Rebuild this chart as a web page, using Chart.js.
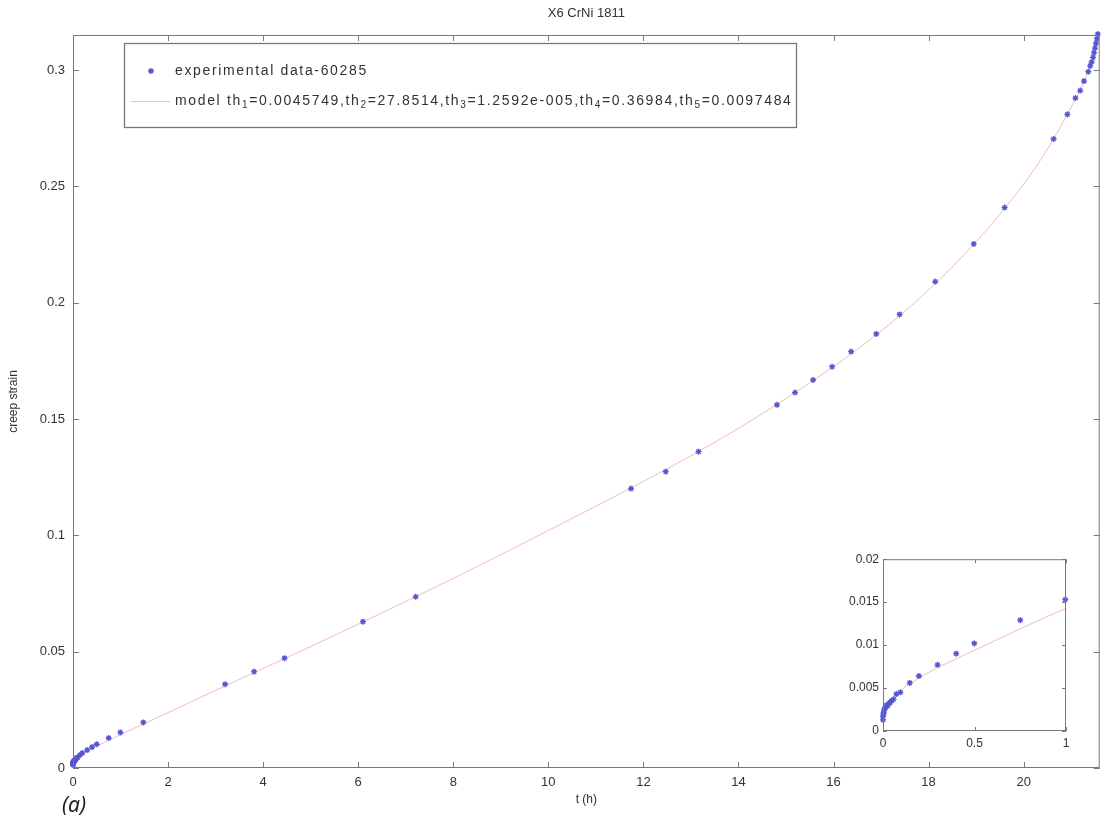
<!DOCTYPE html>
<html>
<head>
<meta charset="utf-8">
<script src="https://cdn.jsdelivr.net/npm/chart.js@4.4.1/dist/chart.umd.min.js"></script>
<style>
  body { margin: 0; background: #fff; }
  #wrap { position: relative; width: 1105px; height: 829px; }
  #wrap canvas { position: absolute; }
  #insetBox { position: absolute; left: 840px; top: 548px; width: 235px; height: 210px; background: #fff; }
  #tag { position: absolute; left: 62px; top: 790px; font: italic 21px "Noto Sans", sans-serif; color: #222; }
</style>
</head>
<body>
<div id="wrap">
  <canvas id="main" width="1105" height="829" style="left:0;top:0"></canvas>
  <div id="insetBox"><canvas id="inset" width="235" height="210" style="left:0;top:0"></canvas></div>
  <div id="tag">(a)</div>
</div>
<script>
// measured creep data (t in hours, creep strain)
const tData = [0, 0, 0.002, 0.004, 0.006, 0.009, 0.012, 0.018, 0.024, 0.031, 0.038, 0.046, 0.058,
  0.073, 0.095, 0.146, 0.196, 0.298, 0.40, 0.499, 0.75, 0.996, 1.48, 3.20, 3.81, 4.45, 6.10, 7.21,
  11.74, 12.47, 13.16, 14.81, 15.19, 15.57, 15.97, 16.37, 16.90, 17.39, 18.14, 18.95, 19.60,
  20.63, 20.92, 21.09, 21.19, 21.27, 21.36, 21.40, 21.43, 21.46, 21.48, 21.50, 21.52, 21.54, 21.56];
const strainData = [0.0013, 0.0017, 0.0020, 0.0021, 0.0024, 0.0026, 0.0027, 0.0030, 0.0029, 0.0032, 0.0033, 0.0035, 0.0037,
  0.0043, 0.0045, 0.0056, 0.0064, 0.0077, 0.0090, 0.0102, 0.0129, 0.0153, 0.0196, 0.0360, 0.0414, 0.0472, 0.0629, 0.0736,
  0.1201, 0.1274, 0.1360, 0.1561, 0.1614, 0.1668, 0.1725, 0.1790, 0.1866, 0.1950, 0.2091, 0.2253, 0.2409,
  0.2704, 0.2810, 0.2880, 0.2912, 0.2953, 0.2993, 0.3018, 0.3035, 0.3055, 0.3075, 0.3095, 0.3115, 0.3135, 0.3155];

// fitted model curve
const modelT = [0, 0.02, 0.05, 0.1, 0.2, 0.3, 0.4, 0.5, 0.75, 1, 1.5, 2, 3, 4, 5, 6, 7, 8, 9, 10,
  11, 12, 13, 14, 15, 16, 17, 18, 19, 20, 20.5, 21, 21.3, 21.45, 21.6];
const modelStrain = [0.0020, 0.0029, 0.0038, 0.0048, 0.0062, 0.0074, 0.0084, 0.0094, 0.0119, 0.0143, 0.0191, 0.0238,
  0.0334, 0.0428, 0.0522, 0.0618, 0.0716, 0.0815, 0.0917, 0.1021, 0.1125, 0.1232, 0.1342, 0.1460, 0.1588,
  0.1726, 0.1878, 0.2055, 0.2262, 0.2510, 0.2660, 0.2840, 0.2965, 0.3045, 0.3150];

const xTicks = [0, 2, 4, 6, 8, 10, 12, 14, 16, 18, 20];
const xTickLabels = ['0', '2', '4', '6', '8', '10', '12', '14', '16', '18', '20'];
const yTicks = [0, 0.05, 0.1, 0.15, 0.2, 0.25, 0.3];
const yTickLabels = ['0', '0.05', '0.1', '0.15', '0.2', '0.25', '0.3'];
const insetXTicks = [0, 0.5, 1];
const insetXTickLabels = ['0', '0.5', '1'];
const insetYTicks = [0, 0.005, 0.01, 0.015, 0.02];
const insetYTickLabels = ['0', '0.005', '0.01', '0.015', '0.02'];

const chartTitle = 'X6 CrNi 1811';
const xTitle = 't (h)';
const yTitle = 'creep strain';
const dataLabel = 'experimental data-60285';
const modelLabel = 'model th_1=0.0045749,th_2=27.8514,th_3=1.2592e-005,th_4=0.36984,th_5=0.0097484';

const FRAME = '#77777f';
const TEXT = '#333';
const MARK = 'rgb(85,85,210)';
const MODEL = 'rgba(238,140,140,0.6)';
const FONT = '"Liberation Sans", Arial, sans-serif';

const pts = (xs, ys) => xs.map((x, i) => ({ x, y: ys[i] }));

// matlab style box with inward ticks on all four sides
const frameTicks = {
  id: 'frameTicks',
  afterDatasetsDraw(chart, args, opts) {
    const { ctx, chartArea: a, scales: { x, y } } = chart;
    const len = opts.len;
    ctx.save();
    ctx.strokeStyle = FRAME;
    ctx.lineWidth = 1;
    ctx.strokeRect(a.left + 0.5, a.top + 0.5, a.width - 1, a.height - 1);
    ctx.beginPath();
    x.ticks.forEach(t => {
      const px = Math.round(x.getPixelForValue(t.value)) + 0.5;
      ctx.moveTo(px, a.bottom); ctx.lineTo(px, a.bottom - len);
      ctx.moveTo(px, a.top); ctx.lineTo(px, a.top + len);
    });
    y.ticks.forEach(t => {
      const py = Math.round(y.getPixelForValue(t.value)) + 0.5;
      ctx.moveTo(a.left, py); ctx.lineTo(a.left + len, py);
      ctx.moveTo(a.right, py); ctx.lineTo(a.right - len, py);
    });
    ctx.stroke();
    ctx.restore();
  }
};

// legend text with subscripts (th_1 ...)
function drawRich(ctx, text, x, y, size) {
  const parts = text.split(/_(\d)/);
  parts.forEach((p, i) => {
    if (!p) return;
    const sub = i % 2 === 1;
    ctx.font = (sub ? size * 0.72 : size) + 'px ' + FONT;
    ctx.fillText(p, x, sub ? y + size * 0.3 : y);
    x += ctx.measureText(p).width;
  });
  return x;
}

const legendBox = {
  id: 'legendBox',
  afterDraw(chart) {
    const { ctx, chartArea: a } = chart;
    const left = a.left + 51, top = a.top + 8, w = 672, h = 84;
    ctx.save();
    ctx.fillStyle = '#fff';
    ctx.fillRect(left, top, w, h);
    ctx.strokeStyle = FRAME;
    ctx.strokeRect(left + 0.5, top + 0.5, w, h);
    const r1 = top + 28, r2 = top + 58;
    ctx.strokeStyle = MARK;
    ctx.lineWidth = 1.3;
    ctx.beginPath();
    const cx = left + 27, r = 3;
    ctx.moveTo(cx - r, r1); ctx.lineTo(cx + r, r1);
    ctx.moveTo(cx, r1 - r); ctx.lineTo(cx, r1 + r);
    ctx.moveTo(cx - 2.1, r1 - 2.1); ctx.lineTo(cx + 2.1, r1 + 2.1);
    ctx.moveTo(cx - 2.1, r1 + 2.1); ctx.lineTo(cx + 2.1, r1 - 2.1);
    ctx.stroke();
    ctx.strokeStyle = MODEL;
    ctx.lineWidth = 1;
    ctx.beginPath();
    ctx.moveTo(left + 7, r2 + 0.5); ctx.lineTo(left + 46, r2 + 0.5);
    ctx.stroke();
    ctx.fillStyle = TEXT;
    ctx.textBaseline = 'middle';
    ctx.letterSpacing = '1.65px';
    drawRich(ctx, dataLabel, left + 51, r1, 14);
    drawRich(ctx, modelLabel, left + 51, r2, 14);
    ctx.restore();
  }
};

const markerDs = {
  pointStyle: 'star', pointRadius: 3, pointBorderWidth: 1.3,
  borderColor: MARK, backgroundColor: MARK, showLine: false
};
const modelDs = {
  borderColor: MODEL, borderWidth: 1, pointRadius: 0, showLine: true,
  cubicInterpolationMode: 'monotone'
};

new Chart(document.getElementById('main'), {
  type: 'scatter',
  data: {
    datasets: [
      Object.assign({ label: dataLabel, data: pts(tData, strainData), clip: false }, markerDs),
      Object.assign({ label: 'model', data: pts(modelT, modelStrain) }, modelDs)
    ]
  },
  options: {
    responsive: false,
    animation: false,
    layout: { padding: { right: 1 } },
    plugins: {
      legend: { display: false },
      tooltip: { enabled: false },
      title: { display: true, fullSize: false, text: chartTitle, color: TEXT,
        font: { family: FONT, size: 13, weight: 'normal' }, padding: { top: 6, bottom: 13.4 } },
      frameTicks: { len: 6 }
    },
    scales: {
      x: {
        type: 'linear', min: 0, max: 21.6,
        afterBuildTicks: s => { s.ticks = xTicks.map(v => ({ value: v })); },
        afterFit: s => { s.height = 61; },
        grid: { display: false, drawTicks: false },
        border: { display: false },
        ticks: { color: TEXT, font: { family: FONT, size: 13 }, padding: 7, maxRotation: 0,
          callback: (v, i) => xTickLabels[i] },
        title: { display: true, text: xTitle, color: TEXT, font: { family: FONT, size: 12 }, padding: { bottom: 22 } }
      },
      y: {
        type: 'linear', min: 0, max: 0.3151,
        afterBuildTicks: s => { s.ticks = yTicks.map(v => ({ value: v })); },
        afterFit: s => { s.width = 73; },
        grid: { display: false, drawTicks: false },
        border: { display: false },
        ticks: { color: TEXT, font: { family: FONT, size: 13 }, padding: 8,
          callback: (v, i) => yTickLabels[i] },
        title: { display: true, text: yTitle, color: TEXT, font: { family: FONT, size: 12 }, padding: { top: 6 } }
      }
    }
  },
  plugins: [frameTicks, legendBox]
});

new Chart(document.getElementById('inset'), {
  type: 'scatter',
  data: {
    datasets: [
      Object.assign({ label: dataLabel, data: pts(tData, strainData), clip: 4 }, markerDs),
      Object.assign({ label: 'model', data: pts(modelT, modelStrain), clip: 0 }, modelDs)
    ]
  },
  options: {
    responsive: false,
    animation: false,
    layout: { padding: { top: 10, right: 9 } },
    plugins: {
      legend: { display: false },
      tooltip: { enabled: false },
      frameTicks: { len: 4 }
    },
    scales: {
      x: {
        type: 'linear', min: 0, max: 1,
        afterBuildTicks: s => { s.ticks = insetXTicks.map(v => ({ value: v })); },
        afterFit: s => { s.height = 27; },
        grid: { display: false, drawTicks: false },
        border: { display: false },
        ticks: { color: TEXT, font: { family: FONT, size: 12 }, padding: 5, maxRotation: 0,
          callback: (v, i) => insetXTickLabels[i] }
      },
      y: {
        type: 'linear', min: 0, max: 0.02,
        afterBuildTicks: s => { s.ticks = insetYTicks.map(v => ({ value: v })); },
        afterFit: s => { s.width = 43; },
        grid: { display: false, drawTicks: false },
        border: { display: false },
        ticks: { color: TEXT, font: { family: FONT, size: 12 }, padding: 4,
          callback: (v, i) => insetYTickLabels[i] }
      }
    }
  },
  plugins: [frameTicks]
});
</script>
</body>
</html>
